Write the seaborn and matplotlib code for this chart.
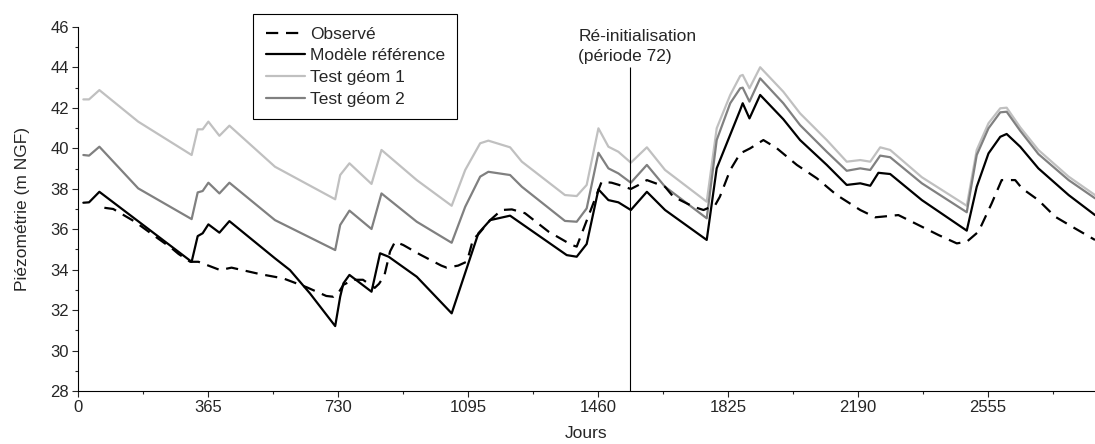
import numpy as np
import matplotlib
matplotlib.use("Agg")
import matplotlib.pyplot as plt
import seaborn as sns
from matplotlib.ticker import MultipleLocator

# Donnees (jours, piezometrie en m NGF)
jours_obs = [74, 99, 160, 220, 263, 282, 315, 338, 399, 431, 511, 576, 642, 697, 717,
             731, 745, 773, 800, 833, 845, 860, 876, 890, 913, 960, 1020, 1035, 1067,
             1092, 1109, 1124, 1157, 1189, 1218, 1255, 1321, 1386, 1400, 1470, 1498,
             1517, 1552, 1574, 1597, 1648, 1671, 1728, 1756, 1789, 1802, 1831, 1859,
             1887, 1924, 1962, 2018, 2074, 2130, 2196, 2238, 2257, 2303, 2350, 2416,
             2467, 2495, 2528, 2565, 2593, 2631, 2650, 2696, 2743, 2799, 2855]
piezo_obs = [37.06, 37.00, 36.37, 35.60, 35.06, 34.78, 34.39, 34.39, 33.98, 34.10,
             33.78, 33.57, 33.13, 32.70, 32.66, 32.85, 33.25, 33.50, 33.50, 33.10,
             33.30, 33.70, 34.90, 35.38, 35.22, 34.75, 34.20, 34.10, 34.20, 34.40,
             35.50, 35.75, 36.45, 36.95, 36.98, 36.79, 35.88, 35.22, 35.14, 38.35,
             38.30, 38.20, 37.99, 38.19, 38.43, 38.10, 37.61, 37.11, 36.95, 37.20,
             37.61, 38.93, 39.75, 40.00, 40.41, 40.00, 39.18, 38.52, 37.69, 36.95,
             36.59, 36.62, 36.70, 36.29, 35.71, 35.30, 35.38, 35.88, 37.28, 38.43,
             38.43, 38.02, 37.44, 36.62, 36.04, 35.47]

jours_ref = [15, 31, 60, 319, 336, 350, 366, 397, 425, 553, 595, 651, 722, 736, 745,
             762, 824, 848, 872, 951, 1049, 1124, 1157, 1213, 1372, 1400, 1428, 1461,
             1489, 1517, 1552, 1597, 1648, 1765, 1793, 1859, 1866, 1885, 1915, 1980,
             2027, 2102, 2158, 2196, 2224, 2247, 2280, 2369, 2495, 2523, 2556, 2589,
             2607, 2645, 2696, 2781, 2855]
piezo_ref = [37.31, 37.33, 37.85, 34.39, 35.66, 35.80, 36.24, 35.83, 36.40, 34.56,
             33.98, 32.83, 31.21, 32.66, 33.32, 33.74, 32.91, 34.81, 34.64, 33.65,
             31.84, 35.80, 36.45, 36.67, 34.72, 34.64, 35.27, 37.97, 37.44, 37.33,
             36.95, 37.85, 36.95, 35.47, 39.01, 41.90, 42.23, 41.48, 42.64, 41.44,
             40.41, 39.18, 38.19, 38.27, 38.15, 38.79, 38.73, 37.44, 35.93, 38.10,
             39.75, 40.57, 40.71, 40.08, 39.01, 37.69, 36.70]

jours_geom = [15, 31, 60, 169, 319, 336, 350, 366, 397, 425, 553, 722, 736, 762, 824,
              852, 951, 1049, 1087, 1129, 1152, 1213, 1246, 1367, 1400, 1428, 1461,
              1489, 1517, 1552, 1597, 1648, 1765, 1793, 1831, 1859, 1866, 1885, 1915,
              1980, 2027, 2102, 2158, 2196, 2224, 2252, 2280, 2369, 2495, 2523, 2556,
              2589, 2607, 2645, 2696, 2781, 2855]
piezo_geom1 = [42.42, 42.42, 42.88, 41.32, 39.67, 40.94, 40.94, 41.32, 40.62, 41.12,
               39.09, 37.48, 38.68, 39.26, 38.24, 39.92, 38.43, 37.16, 38.93, 40.25,
               40.38, 40.05, 39.34, 37.69, 37.64, 38.19, 40.99, 40.08, 39.83, 39.29,
               40.05, 38.93, 37.36, 40.99, 42.64, 43.58, 43.63, 42.97, 44.01, 42.80,
               41.73, 40.41, 39.34, 39.42, 39.34, 40.05, 39.92, 38.57, 37.16, 39.92,
               41.24, 41.98, 42.01, 41.04, 39.92, 38.60, 37.69]
piezo_geom2 = [39.67, 39.64, 40.08, 38.02, 36.50, 37.82, 37.89, 38.30, 37.77, 38.30,
               36.45, 34.97, 36.21, 36.92, 36.01, 37.77, 36.37, 35.33, 37.11, 38.60,
               38.84, 38.68, 38.10, 36.41, 36.37, 37.03, 39.78, 39.01, 38.76, 38.30,
               39.18, 38.10, 36.54, 40.41, 42.23, 42.97, 43.00, 42.31, 43.46, 42.23,
               41.15, 39.83, 38.89, 39.01, 38.93, 39.64, 39.56, 38.27, 36.84, 39.67,
               40.99, 41.78, 41.81, 40.87, 39.72, 38.43, 37.53]

jour_reinit = 1550

sns.set_style("ticks")
plt.rcParams['font.family'] = ['Liberation Sans', 'DejaVu Sans']

fig = plt.figure(figsize=(10.95, 4.44), dpi=100)
ax = fig.add_axes([78 / 1095, 53 / 444, 1017 / 1095, 364 / 444])

lw = 1.6
sns.lineplot(x=jours_geom, y=piezo_geom1, ax=ax, color='#c0c0c0', linewidth=lw,
             estimator=None, sort=False, label='Test géom 1')
sns.lineplot(x=jours_geom, y=piezo_geom2, ax=ax, color='#808080', linewidth=lw,
             estimator=None, sort=False, label='Test géom 2')
sns.lineplot(x=jours_ref, y=piezo_ref, ax=ax, color='black', linewidth=lw,
             estimator=None, sort=False, label='Modèle référence')
sns.lineplot(x=jours_obs, y=piezo_obs, ax=ax, color='black', linewidth=lw,
             linestyle=(0, (5.5, 3.5)), estimator=None, sort=False, label='Observé')

# ligne de re-initialisation
ax.vlines(jour_reinit, 28, 44.0, color='black', linewidth=0.8)
ax.text(1404, 44.15, "Ré-initialisation\n(période 72)", ha='left', va='bottom',
        fontsize=12.5, linespacing=1.45, clip_on=False)

ax.set_xlim(0, 2855)
ax.set_ylim(28, 46)
ax.xaxis.set_major_locator(MultipleLocator(365))
ax.xaxis.set_minor_locator(MultipleLocator(182.5))
ax.yaxis.set_major_locator(MultipleLocator(2))
ax.yaxis.set_minor_locator(MultipleLocator(1))
ax.tick_params(which='major', direction='out', length=4, width=0.8, labelsize=12, pad=2.5)
ax.tick_params(which='minor', direction='out', length=2.2, width=0.8)
for s in ['top', 'right']:
    ax.spines[s].set_visible(False)
for s in ['left', 'bottom']:
    ax.spines[s].set_linewidth(0.8)
    ax.spines[s].set_color('black')

ax.set_xlabel('Jours', fontsize=12.5, labelpad=8)
ax.set_ylabel('Piézométrie (m NGF)', fontsize=12.5, labelpad=15)

handles, labels = ax.get_legend_handles_labels()
order = ['Observé', 'Modèle référence', 'Test géom 1', 'Test géom 2']
hmap = dict(zip(labels, handles))
leg = ax.legend([hmap[l] for l in order], order, loc='upper left',
                bbox_to_anchor=(253 / 1095, 1 - 14 / 444), bbox_transform=fig.transFigure,
                borderaxespad=0, fontsize=12.5, frameon=True, fancybox=False,
                framealpha=1, edgecolor='black', handlelength=2.3, handletextpad=0.25,
                labelspacing=0.38, borderpad=0.72)
leg.get_frame().set_linewidth(0.8)

fig.savefig('out.png', dpi=100)
plt.close(fig)
